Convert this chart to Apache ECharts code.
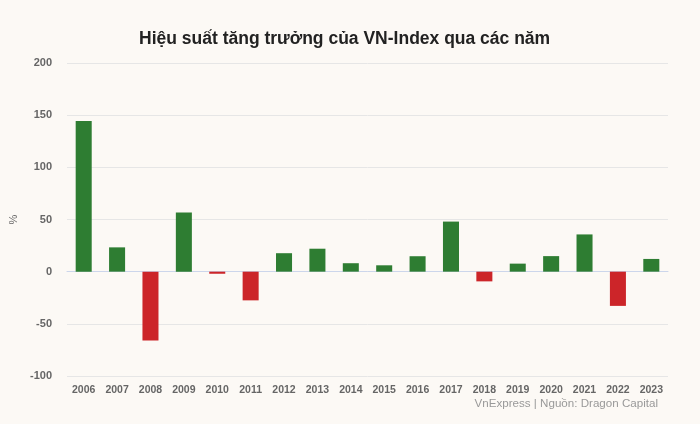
<!DOCTYPE html>
<html><head><meta charset="utf-8">
<script src="https://cdn.jsdelivr.net/npm/echarts@6/dist/echarts.min.js"></script>
<style>html,body{margin:0;padding:0;background:#fcf9f5;}#c{width:700px;height:424px;}</style>
</head><body><div id="c"></div>
<script>
const years = ['2006','2007','2008','2009','2010','2011','2012','2013','2014','2015','2016','2017','2018','2019','2020','2021','2022','2023'];
const growth = [144.5, 23.3, -65.9, 56.8, -2.0, -27.5, 17.7, 22.0, 8.1, 6.1, 14.8, 48.0, -9.3, 7.7, 14.9, 35.7, -32.8, 12.2];
const yTicks = [-100, -50, 0, 50, 100, 150, 200];
const GREEN = '#2e7d32', RED = '#cc2529';
const FONT = '"Liberation Sans", Arial';
const chart = echarts.init(document.getElementById('c'));
chart.setOption({
  backgroundColor: '#fcf9f5',
  animation: false,
  title: [{
    text: 'Hiệu suất tăng trưởng của VN-Index qua các năm',
    left: 134, top: 25,
    textStyle: {fontFamily: FONT, fontSize: 17.5, fontWeight: 'bold', color: '#222'}
  }, {
    text: 'VnExpress | Nguồn: Dragon Capital',
    right: 37, top: 393,
    textStyle: {fontFamily: FONT, fontSize: 11.6, fontWeight: 'normal', color: '#999'}
  }],
  grid: {left: 67, right: 32, top: 63, bottom: 48, containLabel: false, outerBoundsMode: 'none'},
  xAxis: {
    type: 'category', data: years,
    axisLine: {lineStyle: {color: '#ccd6eb'}},
    axisTick: {show: false},
    axisLabel: {color: '#666', fontFamily: FONT, fontSize: 10.5, fontWeight: 'bold', interval: 0, margin: 9}
  },
  yAxis: {
    type: 'value', min: yTicks[0], max: yTicks[yTicks.length-1], interval: 50,
    name: '%', nameLocation: 'middle', nameGap: 48, nameRotate: 90,
    nameTextStyle: {color: '#666', fontSize: 11, fontFamily: FONT},
    axisLine: {show: false}, axisTick: {show: false},
    splitLine: {lineStyle: {color: '#e6e6e6'}},
    axisLabel: {color: '#666', fontFamily: FONT, fontSize: 11, fontWeight: 'bold', margin: 15}
  },
  series: [{
    type: 'bar', barWidth: '48%',
    data: growth.map(v => ({value: v, itemStyle: {color: v >= 0 ? GREEN : RED}}))
  }]
});
</script></body></html>
